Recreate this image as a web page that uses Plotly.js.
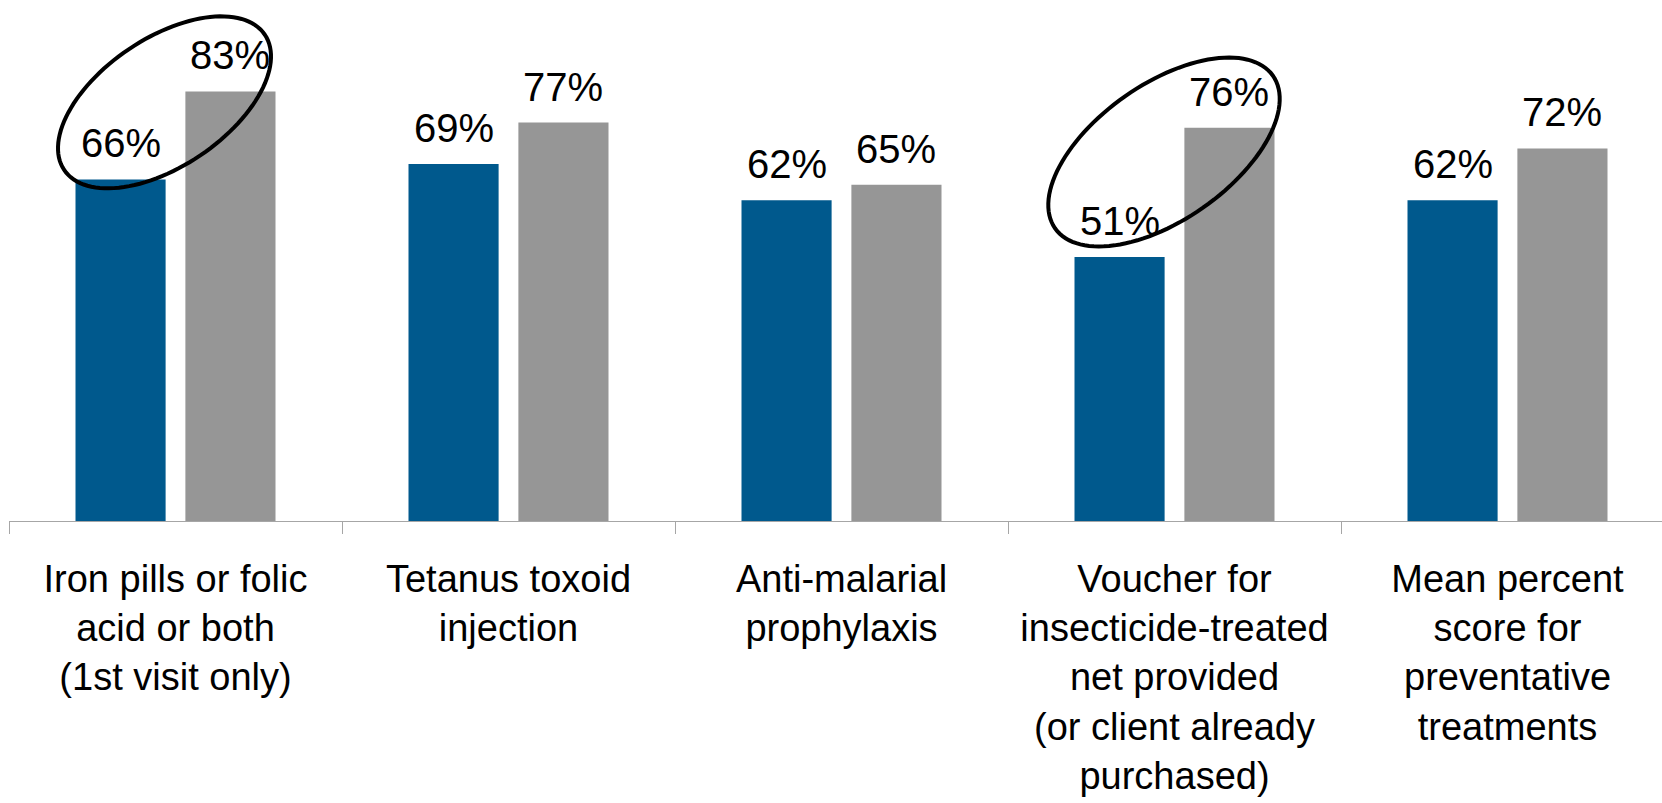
<!DOCTYPE html>
<html>
<head>
<meta charset="utf-8">
<script src="https://cdn.plot.ly/plotly-3.0.1.min.js"></script>
<style>
  html, body { margin: 0; padding: 0; background: #ffffff; }
  #chart { width: 1662px; height: 803px; }
</style>
</head>
<body>
<div id="chart"></div>
<script>
// ---- data ----
const categories = [
  "Iron pills or folic<br>acid or both<br>(1st visit only)",
  "Tetanus toxoid<br>injection",
  "Anti-malarial<br>prophylaxis",
  "Voucher for<br>insecticide-treated<br>net provided<br>(or client already<br>purchased)",
  "Mean percent<br>score for<br>preventative<br>treatments"
];
const seriesBlue = [66, 69, 62, 51, 62];
const seriesGray = [83, 77, 65, 76, 72];
const highlighted = [0, 3];   // categories circled in the picture

// ---- layout constants ----
const W = 1662, H = 803;
const margin = { l: 9, r: 0, t: 0, b: 282 };
const plotW = W - margin.l - margin.r;
const plotH = H - margin.t - margin.b;
const catPx = 333;          // pixel width of one category
const pctPx = 5.175;        // pixels per percentage point
const xRange = [-0.5, -0.5 + plotW / catPx];
const yRange = [0, plotH / pctPx];
const barOffset = 0.165;    // half distance between bar centres, in category units
const FONT = '"Liberation Sans Narrow", "Liberation Sans", Arial, sans-serif';

const BLUE = '#00598D';
const GRAY = '#969696';
const AXIS = '#A6A6A6';

const traceBlue = {
  type: 'bar', x: categories, y: seriesBlue,
  marker: { color: BLUE }, hoverinfo: 'skip'
};
const traceGray = {
  type: 'bar', x: categories, y: seriesGray,
  marker: { color: GRAY }, hoverinfo: 'skip'
};

// value labels
const annotations = [];
seriesBlue.forEach((v, i) => annotations.push({
  x: i - barOffset, y: v, xref: 'x', yref: 'y', text: v + '%',
  showarrow: false, yanchor: 'bottom', yshift: 12,
  font: { family: FONT, size: 40, color: '#000' }
}));
seriesGray.forEach((v, i) => annotations.push({
  x: i + barOffset, y: v, xref: 'x', yref: 'y', text: v + '%',
  showarrow: false, yanchor: 'bottom', yshift: 12,
  font: { family: FONT, size: 40, color: '#000' }
}));

// ellipse outlines (geometry in pixels relative to the category centre)
const ellipseStyle = [
  { dx: -11, cy: 80.9, a: 121, b: 64, theta: 34 },
  { dx: -10.5, cy: 71.3, a: 133, b: 68, theta: 35 }
];
function ellipsePath(cat, st) {
  const cxPx = (cat - xRange[0]) * catPx + st.dx;     // from plot left
  const cyPx = (yRange[1] - st.cy) * pctPx;            // from plot top
  const t = st.theta * Math.PI / 180;
  let d = '';
  const N = 120;
  for (let k = 0; k <= N; k++) {
    const u = 2 * Math.PI * k / N;
    const ex = st.a * Math.cos(u), ey = st.b * Math.sin(u);
    const px = cxPx + ex * Math.cos(t) + ey * Math.sin(t);
    const py = cyPx - ex * Math.sin(t) + ey * Math.cos(t);
    const xp = px / plotW, yp = 1 - py / plotH;
    d += (k === 0 ? 'M' : 'L') + xp.toFixed(5) + ',' + yp.toFixed(5);
  }
  return d + 'Z';
}
const shapes = highlighted.map((c, j) => ({
  type: 'path', xref: 'paper', yref: 'paper',
  path: ellipsePath(c, ellipseStyle[j]),
  line: { color: '#000', width: 4 }, fillcolor: 'rgba(0,0,0,0)', layer: 'above'
}));

const layout = {
  width: W, height: H,
  margin: margin,
  paper_bgcolor: '#fff', plot_bgcolor: '#fff',
  showlegend: false,
  barmode: 'group', bargap: 0.34, bargroupgap: 0.18,
  font: { family: FONT, color: '#000' },
  xaxis: {
    type: 'category', range: xRange, fixedrange: true,
    showline: true, linecolor: AXIS, linewidth: 1,
    ticks: 'outside', tickson: 'boundaries', ticklen: 12, tickcolor: AXIS, tickwidth: 1,
    tickfont: { family: FONT, size: 38, color: '#000' },
    ticklabelstandoff: 24,
    showgrid: false, zeroline: false, automargin: false, tickangle: 0
  },
  yaxis: { range: yRange, visible: false, fixedrange: true, showgrid: false, zeroline: false },
  annotations: annotations,
  shapes: shapes
};

Plotly.newPlot('chart', [traceBlue, traceGray], layout, { displayModeBar: false, staticPlot: true });
</script>
</body>
</html>
